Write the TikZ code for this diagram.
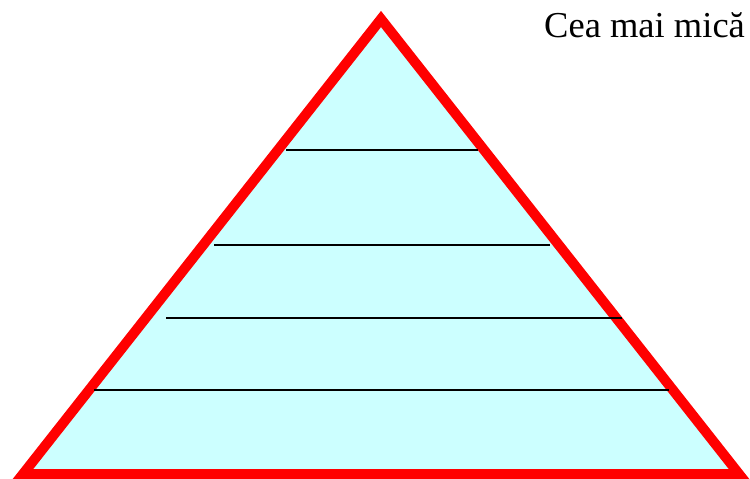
\documentclass[tikz,border=0pt]{standalone}
\usepackage{fontspec}
\setmainfont{Liberation Serif}
\definecolor{pyrfill}{HTML}{CCFFFF}
\definecolor{pyrred}{HTML}{FF0000}
\begin{document}
\begin{tikzpicture}[x=1pt,y=-1pt,
  pyramid/.style={draw=pyrred,fill=pyrfill,line width=10pt,line join=miter},
  level/.style={draw=black,line width=2pt},
  label/.style={font=\fontsize{36.5}{40}\selectfont,inner sep=0pt,anchor=base west}]
\useasboundingbox (0,0) rectangle (750,479);
\coordinate (top) at (381,19);
\coordinate (bl) at (23,474);
\coordinate (br) at (739,474);
\draw[pyramid] (top) -- (br) -- (bl) -- cycle;
\coordinate (l1a) at (286,150); \coordinate (l1b) at (478,150);
\coordinate (l2a) at (214,245); \coordinate (l2b) at (550,245);
\coordinate (l3a) at (166,318); \coordinate (l3b) at (622,318);
\coordinate (l4a) at (94,390);  \coordinate (l4b) at (669,390);
\draw[level] (l1a) -- (l1b);
\draw[level] (l2a) -- (l2b);
\draw[level] (l3a) -- (l3b);
\draw[level] (l4a) -- (l4b);
\node[label] (t) at (544,37) {Cea mai mică};
\end{tikzpicture}
\end{document}
